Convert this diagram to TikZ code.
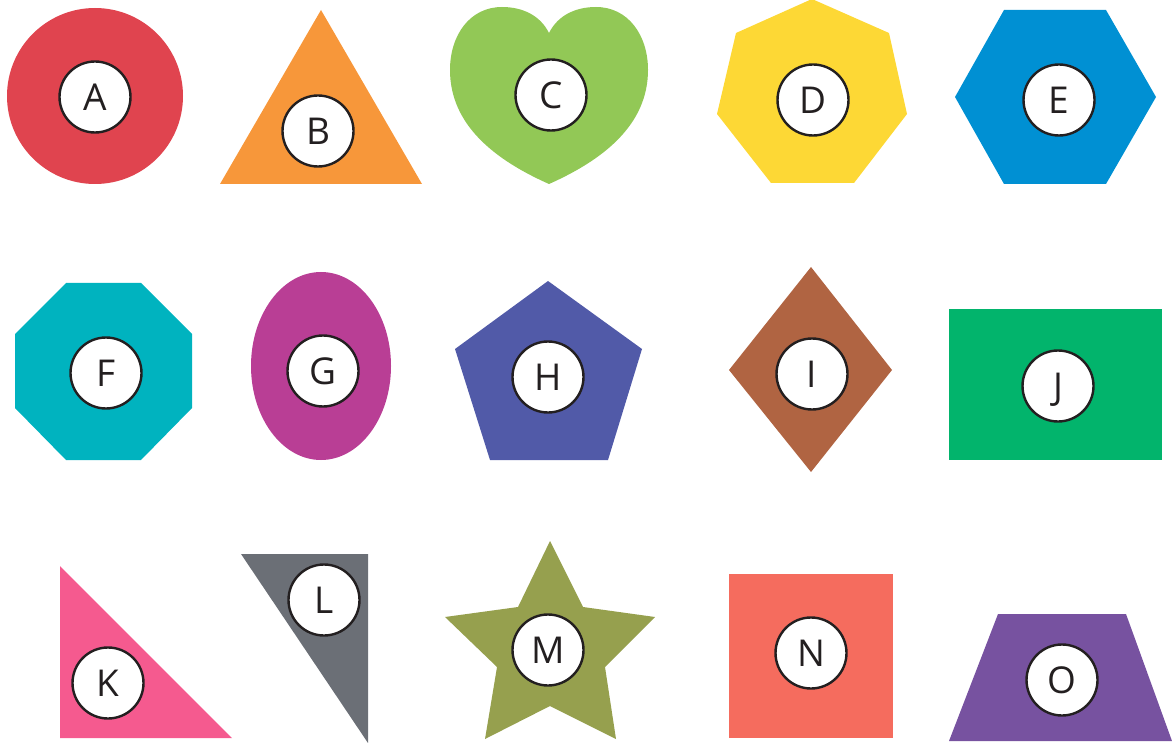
\documentclass[tikz,border=0pt]{standalone}
\usepackage{fontspec}
\setmainfont{Open Sans}
\definecolor{ink}{HTML}{231F20}
\definecolor{cA}{HTML}{E0444F}
\definecolor{cB}{HTML}{F7973A}
\definecolor{cC}{HTML}{92C856}
\definecolor{cD}{HTML}{FDD835}
\definecolor{cE}{HTML}{0090D3}
\definecolor{cF}{HTML}{00B3BF}
\definecolor{cG}{HTML}{B93E95}
\definecolor{cH}{HTML}{515AA8}
\definecolor{cI}{HTML}{B06442}
\definecolor{cJ}{HTML}{02B46C}
\definecolor{cK}{HTML}{F55A8F}
\definecolor{cL}{HTML}{6B6F76}
\definecolor{cM}{HTML}{96A04E}
\definecolor{cN}{HTML}{F56C5E}
\definecolor{cO}{HTML}{7752A0}
\tikzset{
  tag/.style={circle,draw=ink,fill=white,line width=2.4pt,minimum size=71pt,
    inner sep=0pt,text=ink,text height=27pt,text depth=0pt,
    font=\fontsize{37}{40}\selectfont},
}

\begin{document}
\begin{tikzpicture}[x=1pt,y=-1pt]
  \useasboundingbox (0,0) rectangle (1172,743);
  % row 1
  \fill[cA] (95,96) circle (88);
  \fill[cB] (321,10)--(422,184)--(220,184)--cycle;
  \fill[cC] (549,33) .. controls (540,15) and (522,7) .. (502,7)
    .. controls (470,7) and (450,35) .. (450,70)
    .. controls (450,125) and (495,160) .. (549,184)
    .. controls (603,160) and (648,125) .. (648,70)
    .. controls (648,35) and (628,7) .. (596,7)
    .. controls (576,7) and (558,15) .. (549,33) -- cycle;
  \fill[cD] (812,-1)--(889,33)--(907,114)--(854,183)--(771,183)--(717,114)--(736,33)--cycle;
  \fill[cE] (1004,10)--(1106,10)--(1156,97)--(1106,184)--(1004,184)--(955,97)--cycle;
  \node[tag] (a) at (95,97) {A};
  \node[tag] (b) at (318,131) {B};
  \node[tag] (c) at (551,95) {C};
  \node[tag] (d) at (813,100) {D};
  \node[tag] (e) at (1059,100) {E};
  % row 2
  \fill[cF] (66,283)--(141,283)--(192,334)--(192,408)--(141,460)--(66,460)--(15,408)--(15,334)--cycle;
  \fill[cG] (321,366) ellipse [x radius=70,y radius=94];
  \fill[cH] (548,281)--(642,349)--(608,460)--(490,460)--(455,349)--cycle;
  \fill[cI] (811,267)--(892,370)--(811,472)--(729,370)--cycle;
  \fill[cJ] (949,309) rectangle (1162,460);
  \node[tag] (f) at (106,373) {F};
  \node[tag] (g) at (323,371) {G};
  \node[tag] (h) at (548,377) {H};
  \node[tag] (i) at (812,374) {I};
  \node[tag] (j) at (1058,386) {J};
  % row 3
  \fill[cK] (60,566)--(232,738)--(60,738)--cycle;
  \fill[cL] (241,554)--(368,554)--(368,743)--cycle;
  \fill[cM] (550,541)--(583,607)--(655,617)--(605,667)--(616,739)--(550,706)
    --(485,739)--(497,667)--(445,617)--(518,607)--cycle;
  \fill[cN] (729,574) rectangle (893,738);
  \fill[cO] (998,614)--(1126,614)--(1172,741)--(949,741)--cycle;
  \node[tag] (k) at (108,683) {K};
  \node[tag] (l) at (324,600) {L};
  \node[tag] (m) at (548,650) {M};
  \node[tag] (n) at (811,653) {N};
  \node[tag] (o) at (1062,680) {O};
\end{tikzpicture}
\end{document}
